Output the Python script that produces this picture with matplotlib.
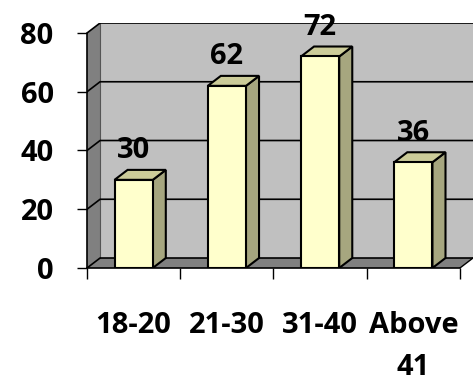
import matplotlib.pyplot as plt
from matplotlib.patches import Polygon

categories = ['18-20', '21-30', '31-40', 'Above\n41']
values = [30, 62, 72, 36]
y_ticks = [0, 20, 40, 60, 80]

# 3d look: depth offset in data units, bar width in category units
DX, DY = 0.14, 3.4
WIDTH = 0.41
FRONT = '#FFFFCC'
SIDE = '#A6A67F'
TOP = '#CCCC99'
WALL = '#C0C0C0'
SIDEWALL = '#808080'
FLOOR = '#808080'

plt.rcParams['font.family'] = ['Open Sans', 'DejaVu Sans']
plt.rcParams['font.weight'] = 'bold'

fig = plt.figure(figsize=(4.75, 3.81), dpi=100)
ax = fig.add_axes([0.1832, 0.2966, 0.8126, 0.643])
ax.patch.set_alpha(0)

n = len(categories)
x0, x1 = -0.5, n - 0.5
ymax = y_ticks[-1]
ax.set_xlim(x0, x1 + DX)
ax.set_ylim(0, ymax + DY)

# walls and floor
ax.add_patch(Polygon([(x0 + DX, DY), (x1 + DX, DY), (x1 + DX, ymax + DY), (x0 + DX, ymax + DY)],
                     fc=WALL, ec='none', zorder=0))
ax.add_patch(Polygon([(x0, 0), (x0 + DX, DY), (x0 + DX, ymax + DY), (x0, ymax)],
                     fc=SIDEWALL, ec='none', zorder=0))
ax.add_patch(Polygon([(x0, 0), (x1, 0), (x1 + DX, DY), (x0 + DX, DY)],
                     fc=FLOOR, ec='none', zorder=0))
ax.plot([x0 + DX, x0 + DX], [DY, ymax + DY], color='#555555', lw=0.8, zorder=1)
ax.plot([x1, x1 + DX], [0, DY], color='black', lw=1, zorder=1)

for t in y_ticks:
    ax.plot([x0, x0 + DX, x1 + DX], [t, t + DY, t + DY], color='black', lw=1.2, zorder=1)

# bars
for i, v in enumerate(values):
    xl, xr = i - WIDTH / 2, i + WIDTH / 2
    ax.add_patch(Polygon([(xr, 0), (xr + DX, DY), (xr + DX, v + DY), (xr, v)],
                         fc=SIDE, ec='black', lw=1.5, zorder=3))
    ax.add_patch(Polygon([(xl, v), (xr, v), (xr + DX, v + DY), (xl + DX, v + DY)],
                         fc=TOP, ec='black', lw=1.5, zorder=3))
    ax.add_patch(Polygon([(xl, 0), (xr, 0), (xr, v), (xl, v)],
                         fc=FRONT, ec='black', lw=1.5, zorder=4))
    ax.annotate(str(v), (i, v), xytext=(0, 21), textcoords='offset points',
                ha='center', va='center', fontsize=21, fontweight='bold',
                annotation_clip=False)

for s in ['top', 'right']:
    ax.spines[s].set_visible(False)
ax.spines['left'].set_bounds(0, ymax)
ax.spines['bottom'].set_bounds(x0, x1)
for s in ['left', 'bottom']:
    ax.spines[s].set_linewidth(1.2)
    ax.spines[s].set_zorder(5)

ax.set_yticks(y_ticks)
ax.tick_params(axis='y', length=7, width=1, pad=17, labelsize=21)
ax.set_xticks(range(n))
ax.set_xticklabels(categories)
ax.set_xticks([x0 + k for k in range(n + 1)], minor=True)
ax.tick_params(axis='x', which='major', length=0, pad=31, labelsize=21)
ax.tick_params(axis='x', which='minor', length=8, width=1)
for lbl in ax.get_xticklabels():
    lbl.set_linespacing(1.58)

fig.savefig('out.png', dpi=100)
